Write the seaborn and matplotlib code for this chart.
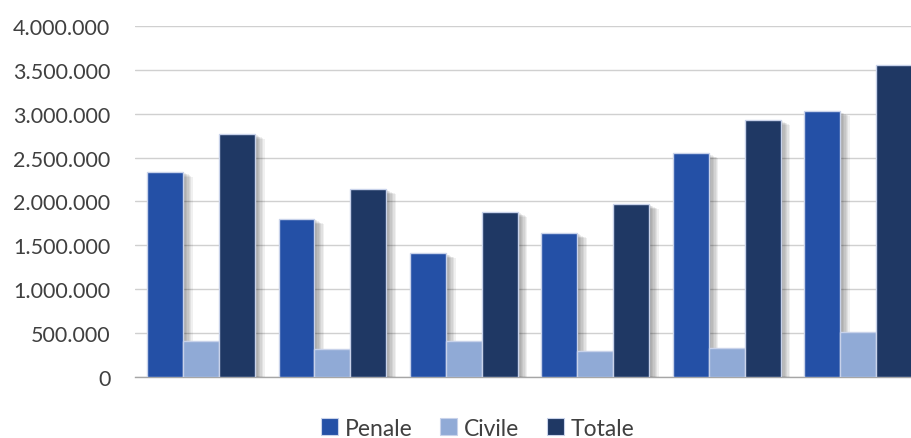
import matplotlib
matplotlib.use("Agg")
import matplotlib.pyplot as plt
import matplotlib.patheffects as pe
from matplotlib.ticker import FuncFormatter, MultipleLocator
from matplotlib.patches import Patch
import seaborn as sns
import pandas as pd

groups = ["1", "2", "3", "4", "5", "6"]
series = ["Penale", "Civile", "Totale"]
penale = [2340000, 1800000, 1410000, 1640000, 2550000, 3030000]
civile = [410000, 320000, 410000, 300000, 330000, 510000]
totale = [2770000, 2140000, 1880000, 1970000, 2930000, 3560000]
colors = ["#2450A6", "#90AAD6", "#1F3864"]

df = pd.DataFrame({
    "gruppo": groups * 3,
    "serie": [s for s in series for _ in groups],
    "valore": penale + civile + totale,
})

sns.set_theme(style="white")
plt.rcParams["font.family"] = ["Lato", "DejaVu Sans"]

fig = plt.figure(figsize=(9.12, 4.39), dpi=100)
ax = fig.add_axes([0.1484, 0.139, 0.8645, 0.7995])

sns.barplot(data=df, x="gruppo", y="valore", hue="serie", hue_order=series,
            palette=colors, width=0.82, ax=ax, legend=False,
            edgecolor="#C8D2EA", linewidth=1.0, saturation=1)

# soft drop shadow built from many faint stacked offsets
shadow = [pe.SimplePatchShadow(offset=(o, -o * 0.5), shadow_rgbFace="black", alpha=0.06)
          for o in (1, 2, 3, 4, 5, 6, 7)]
for p in ax.patches:
    p.set_path_effects(shadow + [pe.Normal()])
    p.set_zorder(3)

ax.set_ylim(0, 4000000)
ax.yaxis.set_major_locator(MultipleLocator(500000))
ax.yaxis.set_major_formatter(FuncFormatter(lambda v, _: f"{v:,.0f}".replace(",", ".")))
ax.grid(axis="y", color="#D0D0D0", linewidth=1.0, zorder=0)
ax.set_axisbelow(True)
ax.set_xticks([])
ax.set_xlabel("")
ax.set_ylabel("")
for s in ["top", "right", "left"]:
    ax.spines[s].set_visible(False)
ax.spines["bottom"].set_color("#A6A6A6")
ax.spines["bottom"].set_linewidth(1.0)
ax.tick_params(axis="y", length=0, pad=18, labelsize=15.5, labelcolor="#404040")

handles = [Patch(facecolor=c, edgecolor="#C8D2EA", linewidth=0.8) for c in colors]
leg = fig.legend(handles, series, loc="center", bbox_to_anchor=(0.524, 0.022),
                 ncol=3, frameon=False, fontsize=16.5, handlelength=0.75, handleheight=0.75,
                 handletextpad=0.3, columnspacing=1.2)
for t in leg.get_texts():
    t.set_color("#404040")

fig.savefig("out.png", dpi=100)
